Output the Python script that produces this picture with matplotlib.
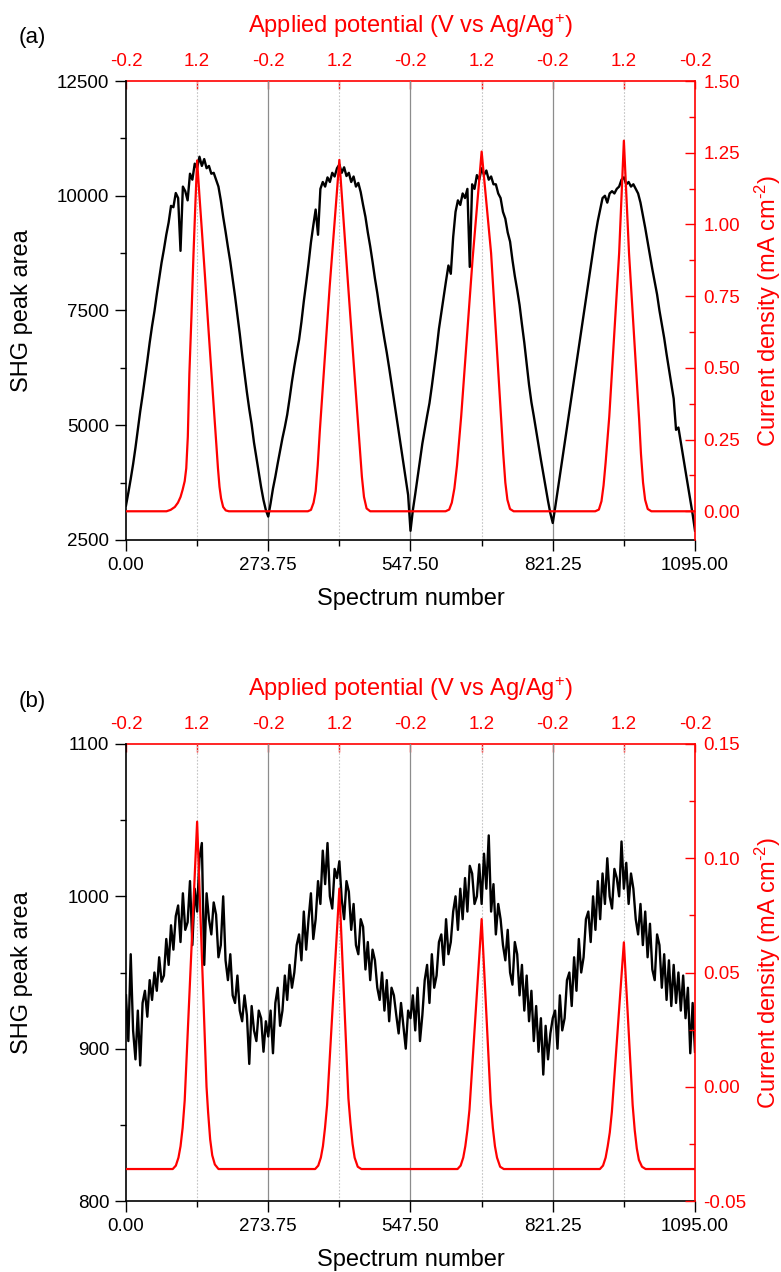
import matplotlib
matplotlib.use("Agg")
import matplotlib.pyplot as plt
import numpy as np
from matplotlib.ticker import MultipleLocator, FixedLocator, FormatStrFormatter

plt.rcParams['font.family'] = ['Liberation Sans', 'DejaVu Sans']
plt.rcParams['mathtext.fontset'] = 'custom'
plt.rcParams['mathtext.rm'] = 'Liberation Sans'
plt.rcParams['mathtext.default'] = 'regular'
plt.rcParams['axes.unicode_minus'] = False

RED = '#ff0000'

# spectrum index of every sampled SHG point
spectrum = np.linspace(0, 1095, 241)

# (a) SHG peak area
shg_a = [
    3250, 3530, 3830, 4150, 4510, 4900, 5300, 5650, 6020, 6400,
    6800, 7160, 7480, 7850, 8200, 8540, 8830, 9150, 9420, 9780,
    9750, 10060, 9950, 8800, 10200, 10100, 9900, 10480, 10350, 10700,
    10600, 10850, 10650, 10800, 10600, 10650, 10480, 10500, 10350, 10200,
    9900, 9540, 9220, 8880, 8560, 8180, 7810, 7400, 6990, 6540,
    6130, 5720, 5350, 5020, 4620, 4300, 3990, 3650, 3370, 3150,
    3010,
    3300, 3620, 3880, 4170, 4440, 4720, 4960, 5230, 5580, 5950,
    6280, 6580, 6860, 7250, 7700, 8100, 8520, 8980, 9350, 9700,
    9150, 10150, 10300, 10200, 10400, 10300, 10500, 10420, 10600, 10680,
    10500, 10620, 10430, 10500, 10300, 10420, 10200, 10280, 10080, 9800,
    9540, 9200, 8900, 8560, 8200, 7880, 7520, 7200, 6880, 6580,
    6250, 5900, 5560, 5220, 4870, 4520, 4170, 3830, 3480, 2700,
    3150, 3500, 3870, 4250, 4600, 4900, 5200, 5480, 5850, 6250,
    6650, 7100, 7450, 7800, 8150, 8480, 8300, 9100, 9650, 9900,
    9800, 10050, 9950, 10150, 8450, 10250, 10150, 10450, 10350, 10600,
    10450, 10550, 10350, 10420, 10250, 10250, 10050, 9950, 9650, 9500,
    9200, 9000, 8600, 8250, 7950, 7620, 7200, 6800, 6350, 5880,
    5500, 5200, 4880, 4560, 4250, 3950, 3660, 3350, 3080, 2870,
    3200, 3550, 3900, 4250, 4600, 4950, 5300, 5650, 6000, 6350,
    6700, 7050, 7400, 7750, 8100, 8450, 8800, 9150, 9450, 9700,
    9950, 10000, 9850, 10050, 10100, 10050, 10150, 10200, 10350, 10400,
    10250, 10300, 10200, 10250, 10150, 10050, 9850, 9580, 9300, 9000,
    8700, 8400, 8120, 7850, 7500, 7200, 6900, 6550, 6220, 5900,
    5580, 4900, 4950, 4630, 4320, 4000, 3690, 3380, 3060, 2700,
]

# (b) SHG peak area
shg_b = [
    935, 905, 962, 912, 893, 925, 889, 930, 938, 921,
    945, 932, 950, 938, 960, 944, 948, 972, 955, 981,
    965, 987, 994, 970, 1002, 978, 983, 1010, 968, 1005,
    990, 1025, 1035, 955, 1002, 985, 975, 996, 988, 960,
    968, 1000, 958, 945, 962, 935, 930, 948, 925, 918,
    935, 922, 890, 928, 912, 905, 925, 920, 898, 918,
    908,
    925, 897, 930, 940, 915, 925, 948, 932, 955, 940,
    950, 968, 975, 958, 990, 965, 985, 1002, 972, 985,
    1010, 995, 1030, 1008, 1035, 1000, 992, 1018, 1012, 1023,
    998, 985, 1010, 1003, 978, 995, 968, 962, 985, 980,
    952, 970, 945, 965, 958, 940, 932, 950, 925, 945,
    918, 940, 935, 922, 910, 930, 915, 900, 925, 920,
    935, 912, 940, 905, 922, 945, 955, 930, 962, 940,
    948, 970, 975, 955, 985, 962, 970, 990, 1000, 978,
    1005, 985, 1012, 990, 1020, 1015, 995, 1000, 1021, 995,
    1028, 1005, 1040, 990, 1008, 975, 995, 985, 968, 958,
    978, 950, 942, 970, 962, 935, 955, 925, 948, 918,
    938, 905, 928, 898, 920, 883, 915, 893, 910, 920,
    925, 900, 935, 912, 920, 945, 950, 928, 960, 938,
    972, 950, 960, 985, 990, 970, 1000, 978, 1010, 985,
    1015, 995, 1025, 1000, 992, 1018, 1012, 1000, 1036, 1005,
    1022, 995, 1015, 1005, 985, 975, 995, 968, 990, 960,
    982, 952, 945, 975, 968, 940, 962, 932, 958, 928,
    955, 930, 950, 925, 948, 920, 940, 897, 930, 898,
]

# (a) current density, mA cm-2
cur_a_x = [0, 78, 86, 94, 100, 105, 109, 113, 116, 119, 122, 126, 130, 133.5, 136.9,
           141, 146, 152, 158, 164, 170, 174, 177, 180, 183, 187, 192, 198,
           350, 356, 361, 365, 369, 373, 392, 410.6, 427, 446, 450, 454, 458, 463, 470,
           615, 622, 627, 632, 637, 645, 667, 684.4, 702.6, 722, 726, 730, 734, 739, 746,
           903, 910, 915, 919, 923, 930, 949, 958.1, 968, 987.5, 991, 995, 999, 1004, 1011, 1095]
cur_a_y = [0, 0, 0.005, 0.015, 0.03, 0.05, 0.075, 0.105, 0.15, 0.26, 0.48, 0.68, 0.9, 1.07, 1.223,
           1.11, 0.98, 0.82, 0.655, 0.495, 0.335, 0.23, 0.15, 0.085, 0.045, 0.015, 0.003, 0,
           0, 0.005, 0.03, 0.07, 0.16, 0.28, 0.784, 1.225, 0.8, 0.32, 0.22, 0.12, 0.05, 0.01, 0,
           0, 0.006, 0.03, 0.08, 0.16, 0.33, 0.88, 1.254, 0.9, 0.32, 0.2, 0.1, 0.04, 0.008, 0,
           0, 0.006, 0.035, 0.09, 0.17, 0.33, 0.9, 1.292, 0.9, 0.32, 0.2, 0.1, 0.04, 0.008, 0, 0]

# (b) current density, mA cm-2
cur_b_x = [0, 90, 96, 101, 105, 109, 113, 136.9, 155, 158, 162, 166, 171, 178,
           364, 370, 375, 379, 383, 387, 410.6, 428, 432, 436, 440, 446, 453,
           638, 644, 649, 653, 657, 661, 684.4, 702, 706, 710, 714, 720, 727,
           912, 918, 923, 927, 931, 935, 958.1, 975, 979, 983, 987, 993, 1000, 1095]
cur_b_y = [-0.036, -0.036, -0.0345, -0.031, -0.026, -0.018, -0.006, 0.116, 0.0, -0.011, -0.023, -0.030, -0.034, -0.036,
           -0.036, -0.0345, -0.031, -0.026, -0.018, -0.008, 0.0867, -0.005, -0.016, -0.025, -0.031, -0.035, -0.036,
           -0.036, -0.0345, -0.031, -0.026, -0.019, -0.010, 0.0734, -0.007, -0.018, -0.026, -0.031, -0.035, -0.036,
           -0.036, -0.0345, -0.031, -0.026, -0.020, -0.011, 0.0632, -0.008, -0.019, -0.027, -0.032, -0.035, -0.036, -0.036]

potential_labels = ['-0.2', '1.2', '-0.2', '1.2', '-0.2', '1.2', '-0.2', '1.2', '-0.2']
potential_pos = np.linspace(0, 1095, len(potential_labels))
spectrum_ticks = [0, 273.75, 547.5, 821.25, 1095]

fig = plt.figure(figsize=(7.81, 12.72), dpi=100)


def draw_panel(rect, shg, cur_x, cur_y, shg_lim, shg_step, cur_lim, cur_step, tag, tag_y):
    ax = fig.add_axes(rect)
    # sweep turning points: solid at -0.2 V, dotted at 1.2 V
    for pos, lab in zip(potential_pos[1:-1], potential_labels[1:-1]):
        if lab == '-0.2':
            ax.axvline(pos, color='#8c8c8c', lw=0.9, zorder=0.5)
        else:
            ax.axvline(pos, color='#c4c4c4', lw=0.8, ls=(0, (1.5, 1.5)), zorder=0.5)
    ax.plot(spectrum, shg, color='black', lw=1.7)
    ax.set_xlim(0, 1095)
    ax.set_ylim(*shg_lim)
    ax.xaxis.set_major_locator(FixedLocator(spectrum_ticks))
    ax.xaxis.set_minor_locator(FixedLocator(potential_pos[1::2]))
    ax.xaxis.set_major_formatter(FormatStrFormatter('%.2f'))
    ax.yaxis.set_major_locator(MultipleLocator(shg_step))
    ax.yaxis.set_minor_locator(MultipleLocator(shg_step / 2))
    ax.tick_params(which='major', direction='out', length=8, width=1, labelsize=13.5, pad=4)
    ax.tick_params(which='minor', direction='out', length=4, width=1)
    ax.spines['top'].set_visible(False)
    ax.spines['right'].set_visible(False)
    for s in ('left', 'bottom'):
        ax.spines[s].set_linewidth(1.2)
    ax.set_xlabel('Spectrum number', fontsize=17)
    ax.xaxis.set_label_coords(0.5, -0.105)
    ax.set_ylabel('SHG peak area', fontsize=17)
    ax.yaxis.set_label_coords(-0.163, 0.5)

    # potential axis on top
    top = ax.secondary_xaxis('top')
    top.set_xticks(potential_pos, potential_labels)
    top.tick_params(colors=RED, direction='in', length=6, width=1, labelsize=13.5, pad=8)
    top.spines['top'].set_color(RED)
    top.spines['top'].set_linewidth(1.2)
    top.set_xlabel('Applied potential (V vs Ag/Ag$^{+}$)', color=RED, fontsize=17)
    top.xaxis.set_label_coords(0.5, 1.104, transform=ax.transAxes)

    # current density on the right
    cx = ax.twinx()
    cx.plot(cur_x, cur_y, color=RED, lw=1.6)
    cx.set_ylim(*cur_lim)
    cx.yaxis.set_major_locator(MultipleLocator(cur_step))
    cx.yaxis.set_minor_locator(MultipleLocator(cur_step / 2))
    cx.yaxis.set_major_formatter(FormatStrFormatter('%.2f'))
    cx.tick_params(axis='y', which='major', colors=RED, direction='in', length=7, width=1,
                   labelsize=13.5, pad=6)
    cx.tick_params(axis='y', which='minor', colors=RED, direction='in', length=4, width=1)
    for s in ('left', 'top', 'bottom'):
        cx.spines[s].set_visible(False)
    cx.spines['right'].set_color(RED)
    cx.spines['right'].set_linewidth(1.2)
    cx.set_ylabel('Current density (mA cm$^{\u20102}$)', color=RED, fontsize=17)
    cx.yaxis.set_label_coords(1.102, 0.5)

    fig.text(32 / 781, tag_y, tag, fontsize=16, ha='center', va='center')


draw_panel([0.1613, 0.5755, 0.7286, 0.3608], shg_a, cur_a_x, cur_a_y,
           (2500, 12500), 2500, (-0.1, 1.5), 0.25, '(a)', 1 - 37 / 1272)
draw_panel([0.1613, 0.0558, 0.7286, 0.3593], shg_b, cur_b_x, cur_b_y,
           (800, 1100), 100, (-0.05, 0.15), 0.05, '(b)', 1 - 702 / 1272)

fig.savefig('out.png', dpi=100)
